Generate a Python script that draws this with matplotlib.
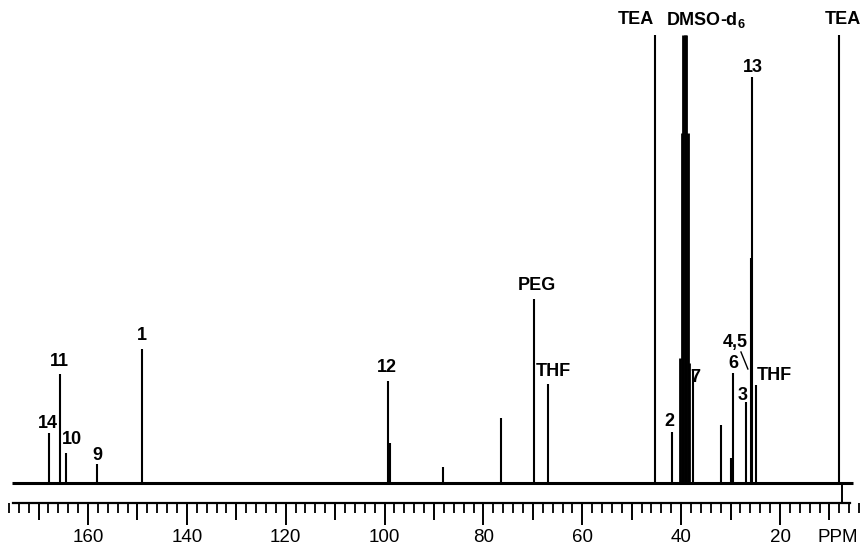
import matplotlib
matplotlib.use("Agg")
import matplotlib.pyplot as plt
import numpy as np
from matplotlib.ticker import MultipleLocator, FuncFormatter

# ---- data (ppm positions and peak heights, arbitrary units) ----
peak_ppm = [167.9, 165.7, 164.4, 158.2, 149.1, 99.3, 98.9, 88.2, 76.4,
            69.8, 66.9, 45.3, 41.8, 37.6, 31.9, 29.9, 29.5, 26.9, 25.85,
            25.6, 24.9, 8.1]
peak_height = [50, 109, 30, 19, 134, 102, 40, 16, 65,
               184, 99, 448, 51, 113, 58, 25, 110, 81, 225,
               406, 98, 448]
dmso_ppm = [40.2, 39.9, 39.6, 39.3, 39.0, 38.7, 38.4]
dmso_height = [125, 350, 448, 448, 448, 350, 120]

tick_labels = [160, 140, 120, 100, 80, 60, 40, 20]

labels = ["14", "11", "10", "9", "1", "12", "PEG", "THF", "2", "7",
          "6", "4,5", "3", "13"]
label_ppm = [168.1, 165.7, 163.2, 158.2, 149.1, 99.5, 69.2, 65.9, 42.3,
             37.2, 29.5, 29.1, 27.5, 25.5]
label_y = [60, 121, 43, 28, 148, 116, 198, 111, 61, 105, 120, 140, 88, 416]

W, H = 863, 546
fig = plt.figure(figsize=(W / 100, H / 100), dpi=100)
ax = fig.add_axes([0, 0, 1, 1])
ax.set_xlim(177.8, 3.21)
ax.set_ylim(-63, 483)

for s in ["top", "right", "left"]:
    ax.spines[s].set_visible(False)
ax.spines["bottom"].set_position(("data", -20))
ax.spines["bottom"].set_bounds(175.2, 5.8)
ax.spines["bottom"].set_linewidth(1.6)
ax.set_yticks([])

# baseline
ax.hlines(0, 175.4, 5.2, color="black", lw=2.2)
# peaks
ax.vlines(peak_ppm, 0, peak_height, color="black", lw=1.5)
ax.vlines(dmso_ppm, 0, dmso_height, color="black", lw=2.0)
# reference marker below TEA
ax.vlines(7.5, -20, 0, color="black", lw=1.4)

# ticks
ax.xaxis.set_major_locator(MultipleLocator(10))
ax.xaxis.set_minor_locator(MultipleLocator(2))
ax.tick_params(axis="x", which="major", direction="out", length=15.8,
               width=1.4, pad=3, labelsize=13.5)
ax.tick_params(axis="x", which="minor", direction="out", length=7.2,
               width=1.3)
ax.xaxis.set_major_formatter(FuncFormatter(
    lambda v, p: f"{int(round(v))}" if int(round(v)) in tick_labels else ""))
for lbl in ax.get_xticklabels():
    lbl.set_family("Liberation Sans")
fig.canvas.draw()
for t in ax.xaxis.get_major_ticks():
    v = t.get_loc()
    if int(round(v)) % 20 != 0:
        t.tick1line.set_markersize(12)

ax.text(8.3, -55, "PPM", ha="center", va="center", fontsize=13.5,
        family="Liberation Sans")

font = dict(family="Liberation Sans", fontweight="bold", fontsize=13)
for lab, xp, yp in zip(labels, label_ppm, label_y):
    ax.text(xp, yp, lab, ha="center", va="center", **font)
ax.text(24.7, 108, "THF", ha="left", va="center", **font)
ax.text(45.5, 463, "TEA", ha="right", va="center", **font)
ax.text(7.3, 463, "TEA", ha="center", va="center", **font)
plt.rcParams["mathtext.default"] = "regular"
ax.text(43.0, 463, r"DMSO-d$_{6}$", ha="left", va="center", **font)
ax.plot([27.9, 26.5], [131, 114], color="black", lw=1.0)

fig.savefig("out.png", dpi=100)
